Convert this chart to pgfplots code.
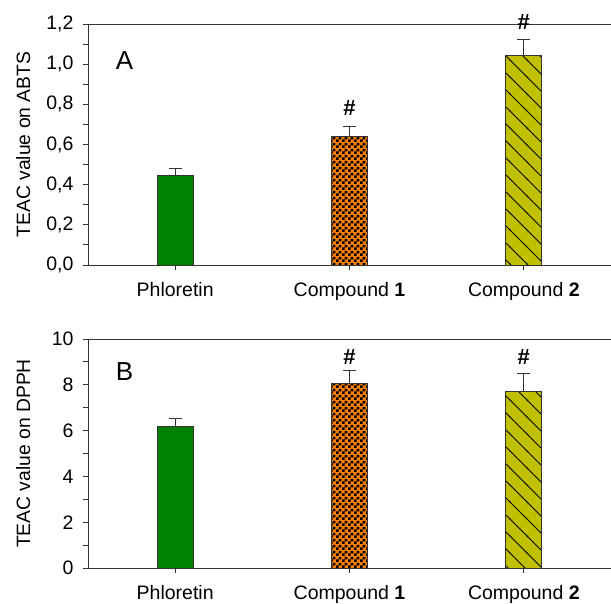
\documentclass[border=0pt]{standalone}
\usepackage{fontspec}
\setmainfont{Liberation Sans}
\usepackage{pgfplots}
\pgfplotsset{compat=1.18}
\usetikzlibrary{patterns}

\definecolor{phlgreen}{HTML}{008000}
\definecolor{cporange}{HTML}{FF8000}
\definecolor{cpolive}{HTML}{C0C000}

% checkerboard with 3pt squares
\pgfdeclarepatternformonly{bigcheck}{\pgfpointorigin}{\pgfqpoint{6pt}{6pt}}{\pgfqpoint{6pt}{6pt}}{%
  \pgfpathrectangle{\pgfpointorigin}{\pgfqpoint{3pt}{3pt}}%
  \pgfpathrectangle{\pgfqpoint{3pt}{3pt}}{\pgfqpoint{3pt}{3pt}}%
  \pgfusepath{fill}}
% wide "\" hatching
\pgfdeclarepatternformonly{widenw}{\pgfqpoint{-1pt}{-1pt}}{\pgfqpoint{18pt}{18pt}}{\pgfqpoint{17pt}{17pt}}{%
  \pgfsetlinewidth{0.8pt}%
  \pgfpathmoveto{\pgfqpoint{-1pt}{18pt}}\pgfpathlineto{\pgfqpoint{18pt}{-1pt}}%
  \pgfusepath{stroke}}

\tikzset{hashnote/.style={font=\fontsize{22}{24}\selectfont\bfseries}}

\pgfplotsset{
  panel/.style={
    scale only axis, width=523pt,
    xmin=-0.5, xmax=2.5,
    xtick={0,1,2},
    xticklabels={Phloretin, Compound \textbf{1}, Compound \textbf{2}},
    axis y line*=left,
    xtick pos=bottom, ytick pos=left,
    tick align=outside,
    major tick length=5pt, minor tick length=5pt,
    minor y tick num=1,
    axis line style={black!80, line width=0.9pt},
    every tick/.style={black!80, line width=0.9pt},
    tick label style={font=\fontsize{19.5}{22}\selectfont},
    xticklabel style={yshift=-9pt},
    yticklabel style={xshift=-6pt},
    label style={font=\fontsize{19.3}{22}\selectfont},
    /pgf/number format/assume math mode=true,
    ylabel style={at={(axis description cs:-0.124,0.5)}, anchor=center},
    clip=false,
  },
  bars/.style={ybar, bar width=36pt, bar shift=0pt, draw=black!80, line width=0.7pt,
    error bars/y dir=plus, error bars/y explicit,
    error bars/error mark=|,
    error bars/error bar style={black!80, line width=0.9pt},
    error bars/error mark options={black!80, line width=0.9pt, mark size=6.5pt}},
}

\begin{document}
\begin{tikzpicture}

% panel A
\begin{axis}[panel, at={(88pt,-265pt)}, anchor=south west,
  height=241pt, ymin=0, ymax=1.2,
  ytick={0,0.2,0.4,0.6,0.8,1.0,1.2},
  yticklabel style={/pgf/number format/.cd, fixed, fixed zerofill, precision=1, use comma},
  ylabel={TEAC value on ABTS}]
\addplot[bars, fill=phlgreen] coordinates {(0,0.445) +- (0,0.035)};
\addplot[bars, fill=cporange, postaction={pattern=bigcheck}] coordinates {(1,0.640) +- (0,0.050)};
\addplot[bars, fill=cpolive, postaction={pattern=widenw}] coordinates {(2,1.042) +- (0,0.082)};
\node[hashnote] at (axis cs:1,0.78) {\#};
\node[hashnote] at (axis cs:2,1.21) {\#};
\node[font=\fontsize{26}{28}\selectfont] at (axis cs:-0.29,1.02) {A};
\end{axis}

% panel B
\begin{axis}[panel, at={(88pt,-568pt)}, anchor=south west,
  height=229pt, ymin=0, ymax=10,
  ytick={0,2,4,6,8,10},
  ylabel={TEAC value on DPPH}]
\addplot[bars, fill=phlgreen] coordinates {(0,6.17) +- (0,0.37)};
\addplot[bars, fill=cporange, postaction={pattern=bigcheck}] coordinates {(1,8.07) +- (0,0.55)};
\addplot[bars, fill=cpolive, postaction={pattern=widenw}] coordinates {(2,7.70) +- (0,0.80)};
\node[hashnote] at (axis cs:1,9.2) {\#};
\node[hashnote] at (axis cs:2,9.2) {\#};
\node[font=\fontsize{26}{28}\selectfont] at (axis cs:-0.29,8.56) {B};
\end{axis}

\pgfresetboundingbox
\path[use as bounding box] (0,0) rectangle (611pt,-604pt);
\end{tikzpicture}
\end{document}
